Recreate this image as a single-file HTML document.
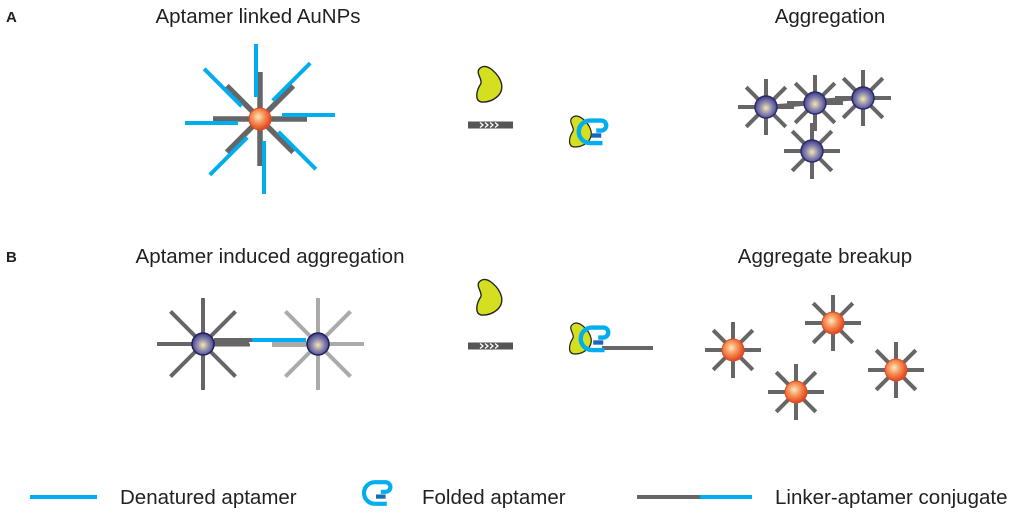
<!DOCTYPE html>
<html><head><meta charset="utf-8"><style>
html,body{margin:0;padding:0;background:#fff;}
svg{display:block;}
text{font-family:"Liberation Sans",sans-serif;fill:#231f20;}
</style></head><body>
<svg width="1024" height="516" viewBox="0 0 1024 516" xmlns="http://www.w3.org/2000/svg">
<defs>
<radialGradient id="og" cx="0.42" cy="0.4" r="0.6">
<stop offset="0" stop-color="#fde8c0"/><stop offset="0.45" stop-color="#f7955a"/><stop offset="1" stop-color="#e0441e"/>
</radialGradient>
<radialGradient id="bg" cx="0.5" cy="0.55" r="0.55">
<stop offset="0" stop-color="#f5e6b0"/><stop offset="0.5" stop-color="#8c88b0"/><stop offset="1" stop-color="#3a3a80"/>
</radialGradient>
<g id="sa">
<line x1="0" y1="-10" x2="0" y2="-47" stroke="#666" stroke-width="5.5"/>
<line x1="-4" y1="-22" x2="-4" y2="-75" stroke="#00aeef" stroke-width="4"/>
</g>
<g id="sd"><line x1="0" y1="0" x2="0" y2="-28" stroke="#666" stroke-width="4"/></g>
<g id="s8">
<use href="#sd"/><use href="#sd" transform="rotate(45)"/><use href="#sd" transform="rotate(90)"/><use href="#sd" transform="rotate(135)"/>
<use href="#sd" transform="rotate(180)"/><use href="#sd" transform="rotate(225)"/><use href="#sd" transform="rotate(270)"/><use href="#sd" transform="rotate(315)"/>
</g>
<g id="sl"><line x1="0" y1="0" x2="0" y2="-46" stroke-width="4"/></g>
<g id="l8">
<use href="#sl"/><use href="#sl" transform="rotate(45)"/><use href="#sl" transform="rotate(90)"/><use href="#sl" transform="rotate(135)"/>
<use href="#sl" transform="rotate(180)"/><use href="#sl" transform="rotate(225)"/><use href="#sl" transform="rotate(270)"/><use href="#sl" transform="rotate(315)"/>
</g>
<path id="prot" d="M-8,-16 C-2,-20 8,-10 10,-2 C12,8 2,14 -6,14 C-14,14 -12,4 -8,-2 C-6,-6 -14,-12 -8,-16 Z" fill="#d4df1f" stroke="#222" stroke-width="1.2"/>
<g id="bar"><rect x="0" y="-3.5" width="45" height="7" fill="#555"/>
<path d="M12,-2.5 l3,2.5 l-3,2.5 M17,-2.5 l3,2.5 l-3,2.5 M22,-2.5 l3,2.5 l-3,2.5 M27,-2.5 l3,2.5 l-3,2.5" stroke="#fff" stroke-width="1.3" fill="none"/></g>
<g id="fold" fill="none" stroke="#00aeef" stroke-width="3.5">
<path d="M9,-6 L13,-6 A4,4 0 0 0 13,-14 L4,-14 A9,9 0 0 0 4,4 L14,4"/>
<path d="M5,-2 L13,-2" stroke="#1a66b8"/>
</g>
</defs>

<text x="6" y="22" font-size="15" font-weight="bold">A</text>
<text x="258" y="23" font-size="20.5" text-anchor="middle">Aptamer linked AuNPs</text>
<text x="830" y="23" font-size="20.5" text-anchor="middle">Aggregation</text>

<g transform="translate(260,119)">
<use href="#sa"/><use href="#sa" transform="rotate(45)"/><use href="#sa" transform="rotate(90)"/><use href="#sa" transform="rotate(135)"/>
<use href="#sa" transform="rotate(180)"/><use href="#sa" transform="rotate(225)"/><use href="#sa" transform="rotate(270)"/><use href="#sa" transform="rotate(315)"/>
<circle r="11" fill="url(#og)" stroke="#e04a20" stroke-width="1"/>
</g>

<use href="#prot" transform="translate(490,86) scale(1.15)"/>
<use href="#bar" transform="translate(468,125)"/>
<use href="#prot" transform="translate(581,133) scale(1.0)"/>
<use href="#fold" transform="translate(585,138) scale(1.25)"/>

<line x1="766" y1="107" x2="815" y2="103" stroke="#666" stroke-width="4"/>
<line x1="815" y1="101" x2="863" y2="98" stroke="#666" stroke-width="4"/>
<g transform="translate(766,107)"><use href="#s8"/><circle r="11" fill="url(#bg)" stroke="#2a2a70" stroke-width="1.5"/></g>
<g transform="translate(815,103)"><use href="#s8"/><circle r="11" fill="url(#bg)" stroke="#2a2a70" stroke-width="1.5"/></g>
<g transform="translate(863,98)"><use href="#s8"/><circle r="11" fill="url(#bg)" stroke="#2a2a70" stroke-width="1.5"/></g>
<g transform="translate(812,151)"><use href="#s8"/><circle r="11" fill="url(#bg)" stroke="#2a2a70" stroke-width="1.5"/></g>

<text x="6" y="262" font-size="15" font-weight="bold">B</text>
<text x="270" y="263" font-size="20.5" text-anchor="middle">Aptamer induced aggregation</text>
<text x="825" y="263" font-size="20.5" text-anchor="middle">Aggregate breakup</text>

<g transform="translate(318,344)" stroke="#aaa"><use href="#l8"/></g>
<g transform="translate(203,344)" stroke="#666"><use href="#l8"/></g>
<line x1="214" y1="340" x2="252" y2="340" stroke="#666" stroke-width="4"/>
<line x1="214" y1="345" x2="250" y2="345" stroke="#666" stroke-width="3"/>
<line x1="252" y1="340" x2="306" y2="340" stroke="#00aeef" stroke-width="4"/>
<line x1="272" y1="345" x2="306" y2="345" stroke="#aaa" stroke-width="4"/>
<circle cx="203" cy="344" r="11" fill="url(#bg)" stroke="#1e1e60" stroke-width="1.5"/>
<circle cx="318" cy="344" r="11" fill="url(#bg)" stroke="#1e1e60" stroke-width="1.5"/>

<use href="#prot" transform="translate(490,299) scale(1.15)"/>
<use href="#bar" transform="translate(468,346)"/>
<line x1="602" y1="348" x2="653" y2="348" stroke="#666" stroke-width="4"/>
<use href="#prot" transform="translate(581,340) scale(1.0)"/>
<use href="#fold" transform="translate(587,345) scale(1.25)"/>

<g transform="translate(833,323)"><use href="#s8"/><circle r="11" fill="url(#og)" stroke="#e04a20"/></g>
<g transform="translate(733,350)"><use href="#s8"/><circle r="11" fill="url(#og)" stroke="#e04a20"/></g>
<g transform="translate(896,370)"><use href="#s8"/><circle r="11" fill="url(#og)" stroke="#e04a20"/></g>
<g transform="translate(796,392)"><use href="#s8"/><circle r="11" fill="url(#og)" stroke="#e04a20"/></g>

<line x1="30" y1="497" x2="97" y2="497" stroke="#00aeef" stroke-width="4"/>
<text x="120" y="504" font-size="20.5">Denatured aptamer</text>
<g transform="translate(370,499) scale(1.2)"><use href="#fold"/></g>
<text x="422" y="504" font-size="20.5">Folded aptamer</text>
<line x1="637" y1="497" x2="700" y2="497" stroke="#666" stroke-width="4"/>
<line x1="700" y1="497" x2="752" y2="497" stroke="#00aeef" stroke-width="4"/>
<text x="775" y="504" font-size="20.5">Linker-aptamer conjugate</text>
</svg>
</body></html>
